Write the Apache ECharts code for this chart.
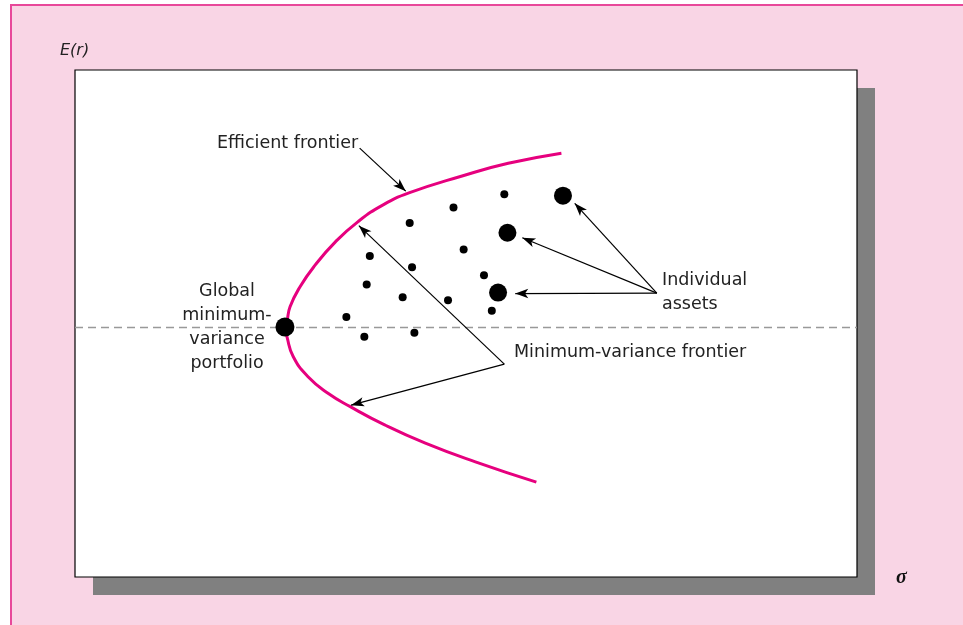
<!DOCTYPE html>
<html>
<head>
<meta charset="utf-8">
<script src="https://cdn.jsdelivr.net/npm/echarts@6/dist/echarts.min.js"></script>
<style>
  html, body { margin: 0; padding: 0; background: #fff; }
  #chart { width: 963px; height: 625px; }
</style>
</head>
<body>
<div id="chart"></div>
<script>
// frontier curve (sigma, E(r)) from top end to bottom end
const frontierSigma = [62.2, 55.4, 49.5, 42.7, 39.4, 36.2, 33.3, 30.7, 28.8, 27.5, 27.1, 26.85, 27.1, 27.9, 29.8, 32.4, 35.2, 39.6, 44.8, 51.2, 59.0]
const frontierRet = [83.6, 81.6, 79.1, 75.75, 73.4, 70.1, 66.1, 61.5, 57.3, 53.3, 50.4, 49.3, 47.4, 43.5, 39.5, 36.2, 33.6, 30.0, 26.4, 22.7, 18.7]

// small dots
const assetSigma = [54.9, 48.4, 42.8, 49.7, 37.7, 43.1, 52.3, 37.3, 41.9, 47.7, 53.3, 34.7, 37.0, 43.4]
const assetRet = [75.5, 72.9, 69.8, 64.6, 63.3, 61.1, 59.5, 57.7, 55.2, 54.6, 52.5, 51.3, 47.4, 48.2]

// the three labelled assets
const bigSigma = [62.4, 55.3, 54.1]
const bigRet = [75.2, 67.9, 56.1]

// global minimum-variance portfolio
const gmvSigma = 26.85
const gmvRet = 49.3

// arrows: [fromSigma, fromRet, toSigma, toRet]
const arrowEfficient = [[36.4, 84.6, 42.3, 76.1]]
const arrowMinVar = [[54.9, 42.0, 36.3, 69.3], [54.9, 42.0, 35.3, 33.9]]
const arrowAssets = [[74.4, 56.0, 63.9, 73.7], [74.4, 56.0, 57.2, 66.9], [74.4, 56.0, 56.3, 55.9]]

const zip = (a, b) => a.map((v, i) => [v, b[i]])

const chart = echarts.init(document.getElementById('chart'))

const txtFont = '17.5px "DejaVu Sans"'
const arrowLines = arrowEfficient.concat(arrowMinVar, arrowAssets).map(a => [
  { coord: [a[0], a[1]], symbol: 'none' },
  { coord: [a[2], a[3]], symbol: 'arrow' }
])

const option = {
  backgroundColor: '#fff',
  animation: false,
  grid: {
    left: 75, top: 70, width: 782, height: 507,
    show: true,
    backgroundColor: '#fff',
    borderColor: '#000',
    borderWidth: 1.2
  },
  xAxis: { type: 'value', min: 0, max: 100, show: false },
  yAxis: { type: 'value', min: 0, max: 100, show: false },
  graphic: [
    {
      type: 'rect', z: -20, silent: true,
      shape: { x: 11, y: 5, width: 980, height: 650 },
      style: { fill: '#f9d5e5', stroke: '#e8489a', lineWidth: 2 }
    },
    {
      type: 'rect', z: -10, silent: true,
      shape: { x: 93, y: 88, width: 782, height: 507 },
      style: { fill: '#808080' }
    },
    {
      type: 'text', z: 100,
      style: { text: 'E(r)', x: 60, y: 51, font: 'italic 16px "DejaVu Sans"', fill: '#222', textVerticalAlign: 'middle' }
    },
    {
      type: 'text', z: 100,
      style: { text: 'σ', x: 896, y: 578, font: 'italic bold 20px "Liberation Serif"', fill: '#111', textVerticalAlign: 'middle' }
    },
    {
      type: 'text', z: 100,
      style: { text: 'Efficient frontier', x: 217, y: 143, font: txtFont, fill: '#222', textVerticalAlign: 'middle' }
    },
    {
      type: 'text', z: 100,
      style: { text: 'Global\nminimum-\nvariance\nportfolio', x: 227, y: 279, font: txtFont, lineHeight: 24, fill: '#222', textAlign: 'center', textVerticalAlign: 'top' }
    },
    {
      type: 'text', z: 100,
      style: { text: 'Individual\nassets', x: 662, y: 268, font: txtFont, lineHeight: 24, fill: '#222', textVerticalAlign: 'top' }
    },
    {
      type: 'text', z: 100,
      style: { text: 'Minimum-variance frontier', x: 514, y: 352, font: txtFont, fill: '#222', textVerticalAlign: 'middle' }
    }
  ],
  series: [
    {
      type: 'line',
      data: zip(frontierSigma, frontierRet),
      smooth: true,
      symbol: 'none',
      lineStyle: { color: '#e6007e', width: 3 },
      silent: true,
      markLine: {
        silent: true,
        symbol: 'none',
        label: { show: false },
        lineStyle: { color: '#999', type: [8, 5], width: 1.3 },
        data: [{ yAxis: gmvRet }]
      }
    },
    {
      type: 'scatter',
      data: zip(assetSigma, assetRet),
      symbolSize: 8,
      itemStyle: { color: '#000', opacity: 1 },
      silent: true
    },
    {
      type: 'scatter',
      data: zip(bigSigma, bigRet),
      symbolSize: 18,
      itemStyle: { color: '#000', opacity: 1 },
      silent: true
    },
    {
      type: 'scatter',
      data: [[gmvSigma, gmvRet]],
      symbolSize: 19,
      itemStyle: { color: '#000', opacity: 1 },
      silent: true,
      z: 5
    },
    {
      type: 'line',
      data: [],
      silent: true,
      markLine: {
        silent: true,
        symbolSize: [7, 13],
        label: { show: false },
        lineStyle: { color: '#000', type: 'solid', width: 1.2 },
        data: arrowLines
      }
    }
  ]
}

chart.setOption(option)
</script>
</body>
</html>
